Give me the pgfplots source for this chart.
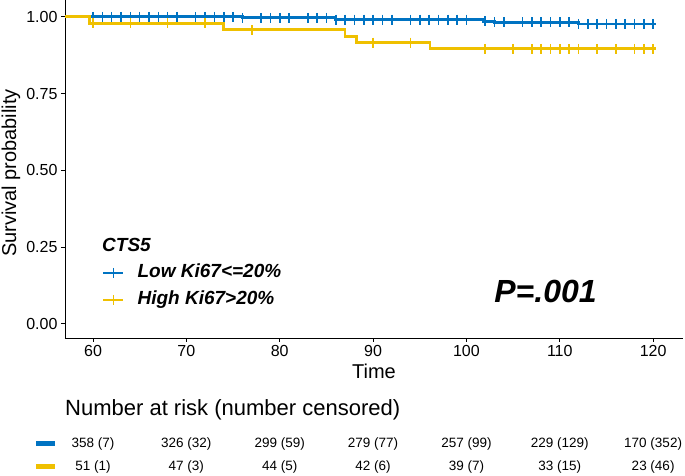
\documentclass[border=0pt]{standalone}
\usepackage{fontspec}
\setmainfont{Liberation Sans}
\usepackage{pgfplots}
\pgfplotsset{compat=1.18}
\definecolor{jblue}{HTML}{0073C2}
\definecolor{jyellow}{HTML}{EFC000}
\begin{document}
\begin{tikzpicture}
\useasboundingbox (0,0) rectangle (685pt,476pt);
\begin{axis}[
  at={(65pt,138pt)}, anchor=south west,
  width=618pt, height=338pt, scale only axis,
  xmin=57, xmax=123.2, ymin=-0.046, ymax=1.055,
  axis x line*=bottom, axis y line*=left,
  axis line style={-, line width=0.9pt, black},
  xtick={60,70,...,120}, ytick={0,0.25,0.5,0.75,1},
  xticklabels={60,70,80,90,100,110,120},
  yticklabels={0.00,0.25,0.50,0.75,1.00},
  tick align=outside, major tick length=4pt,
  tick style={black, line width=0.9pt},
  /pgf/number format/assume math mode=true,
  ticklabel style={font=\fontsize{16}{19}\selectfont, text=black},
  xlabel={Time}, ylabel={Survival probability},
  label style={font=\fontsize{20}{24}\selectfont},
  xlabel style={at={(axis description cs:0.5,-0.0976)}, anchor=center},
  ylabel style={at={(axis description cs:-0.0874,0.488)}, anchor=center},
  clip=false,
  legend style={draw=none, fill=none, at={(axis description cs:0.0599,0.2195)},
    anchor=north west, inner sep=0pt, outer sep=0pt, row sep=9pt, column sep=13pt,
    nodes={inner sep=0pt, text height=14pt, text depth=4pt},
    font=\fontsize{19}{23}\selectfont\bfseries\itshape},
  legend cell align=left,
  legend image code/.code={\draw[mark repeat=2,mark phase=2,#1] plot coordinates {(0pt,0pt) (10pt,0pt) (20pt,0pt)};},
]
% survival curves
\addplot[forget plot, const plot, jblue, line width=2.8pt] coordinates {
(57,1) (76,0.997) (86,0.991) (101.8,0.985) (103,0.982) (112,0.977) (120.3,0.977)};
\addplot[forget plot, only marks, mark=|, mark size=5pt, jblue, mark options={line width=1.6pt}] coordinates {
(60,1) (61,1) (62,1) (63,1) (64,1) (65,1) (66,1) (67,1) (68,1) (69,1) (71,1) (72,1) (73,1) (74,1) (75,1)
(76,0.997) (78,0.997) (79,0.997) (80,0.997) (81,0.997) (83,0.997) (84,0.997) (85,0.997)
(86,0.991) (87,0.991) (88,0.991) (89,0.991) (90,0.991) (91,0.991) (92,0.991) (94,0.991) (95,0.991) (96,0.991) (97,0.991) (98,0.991) (99,0.991) (100,0.991)
(102,0.985) (103,0.982) (104,0.982) (106,0.982) (107,0.982) (108,0.982) (109,0.982) (110,0.982) (111,0.982)
(112,0.977) (113,0.977) (114,0.977) (115,0.977) (116,0.977) (117,0.977) (118,0.977) (119,0.977) (120,0.977)};
\addplot[forget plot, const plot, jyellow, line width=2.8pt] coordinates {
(57,1) (59.6,0.979) (74,0.958) (87,0.937) (88.2,0.916) (96.1,0.896) (120.3,0.896)};
\addplot[forget plot, only marks, mark=|, mark size=5pt, jyellow, mark options={line width=1.6pt}] coordinates {
(60,0.979) (64,0.979) (68,0.979) (72,0.979) (77,0.958) (90,0.916) (94,0.916)
(102,0.896) (105,0.896) (107,0.896) (108,0.896) (109,0.896) (110,0.896) (111,0.896) (112,0.896)
(114,0.896) (116,0.896) (118,0.896) (119,0.896) (120,0.896)};
% legend
\addlegendimage{jblue, line width=2.6pt, mark=|, mark size=5pt, mark options={line width=1.6pt}}
\addlegendentry{Low Ki67<=20\%}
\addlegendimage{jyellow, line width=2.6pt, mark=|, mark size=5pt, mark options={line width=1.6pt}}
\addlegendentry{High Ki67>20\%}
\node[anchor=west, inner sep=0pt, font=\fontsize{19}{23}\selectfont\bfseries\itshape] at (axis description cs:0.0599,0.275) {CTS5};
\node[inner sep=0pt, font=\fontsize{32}{38}\selectfont\bfseries\itshape] at (axis description cs:0.7775,0.139) {P=.001};
% risk table
\node[anchor=west, inner sep=0pt, font=\fontsize{22}{26}\selectfont] at (axis description cs:0,-0.213) {Number at risk (number censored)};
\addplot[forget plot, jblue, line width=5pt] coordinates {(53.9,-0.391) (55.9,-0.391)};
\addplot[forget plot, jyellow, line width=5pt] coordinates {(53.9,-0.466) (55.9,-0.466)};
\addplot[forget plot, draw=none, mark=none, nodes near coords, point meta=explicit symbolic,
  nodes near coords style={anchor=center, inner sep=0pt, text=black, font=\fontsize{13.5}{16}\selectfont}] coordinates {
(60,-0.391) [358 (7)] (70,-0.391) [326 (32)] (80,-0.391) [299 (59)] (90,-0.391) [279 (77)]
(100,-0.391) [257 (99)] (110,-0.391) [229 (129)] (120,-0.391) [170 (352)]};
\addplot[forget plot, draw=none, mark=none, nodes near coords, point meta=explicit symbolic,
  nodes near coords style={anchor=center, inner sep=0pt, text=black, font=\fontsize{13.5}{16}\selectfont}] coordinates {
(60,-0.466) [51 (1)] (70,-0.466) [47 (3)] (80,-0.466) [44 (5)] (90,-0.466) [42 (6)]
(100,-0.466) [39 (7)] (110,-0.466) [33 (15)] (120,-0.466) [23 (46)]};
\end{axis}
\end{tikzpicture}
\end{document}
